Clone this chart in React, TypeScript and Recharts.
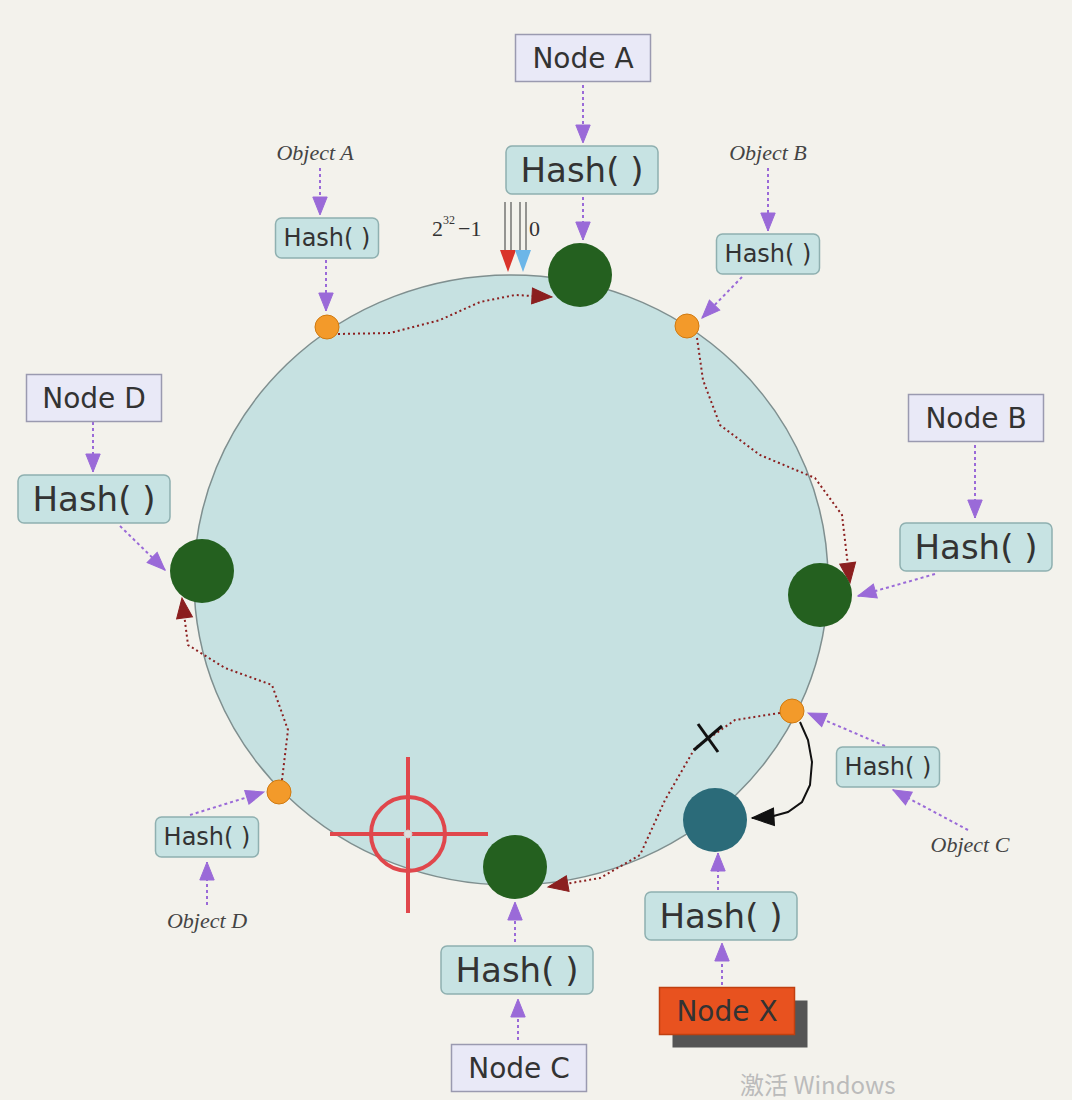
import { ScatterChart, Scatter, XAxis, YAxis } from "recharts";

type P = { x: number; y: number; [k: string]: any };

const ring: P[] = [{ x: 511, y: 580 }];
const nodes: P[] = [
  { x: 580, y: 275, c: "#24601f" },
  { x: 820, y: 595, c: "#24601f" },
  { x: 515, y: 867, c: "#24601f" },
  { x: 202, y: 571, c: "#24601f" },
  { x: 715, y: 820, c: "#2b6b79" },
];
const objects: P[] = [
  { x: 327, y: 327 },
  { x: 687, y: 326 },
  { x: 792, y: 711 },
  { x: 279, y: 792 },
];
const boxes: P[] = [
  { x: 583, y: 58, kind: "node", t: "Node A" },
  { x: 582, y: 170, kind: "big", t: "Hash( )" },
  { x: 327, y: 238, kind: "small", t: "Hash( )" },
  { x: 768, y: 254, kind: "small", t: "Hash( )" },
  { x: 976, y: 418, kind: "node", t: "Node B" },
  { x: 976, y: 547, kind: "big", t: "Hash( )" },
  { x: 888, y: 767, kind: "small", t: "Hash( )" },
  { x: 94, y: 398, kind: "node", t: "Node D" },
  { x: 94, y: 499, kind: "big", t: "Hash( )" },
  { x: 207, y: 837, kind: "small", t: "Hash( )" },
  { x: 517, y: 970, kind: "big", t: "Hash( )" },
  { x: 519, y: 1068, kind: "node", t: "Node C" },
  { x: 721, y: 916, kind: "big", t: "Hash( )" },
  { x: 727, y: 1011, kind: "nodex", t: "Node X" },
];
const labels: P[] = [
  { x: 315, y: 160, t: "Object A" },
  { x: 768, y: 160, t: "Object B" },
  { x: 970, y: 852, t: "Object C" },
  { x: 207, y: 928, t: "Object D" },
];
const purpleArrows: [number, number, number, number][] = [
  [583, 85, 583, 143], [583, 197, 583, 240], [320, 168, 320, 215], [326, 260, 326, 311],
  [768, 168, 768, 231], [742, 277, 702, 318], [975, 445, 975, 518], [935, 574, 858, 596],
  [968, 830, 893, 790], [885, 746, 808, 713], [718, 890, 718, 853], [722, 985, 722, 943],
  [515, 942, 515, 902], [518, 1040, 518, 999], [93, 422, 93, 472], [120, 526, 165, 570],
  [190, 815, 264, 792], [207, 905, 207, 862],
];
const redCurves: P[][] = [
  [{ x: 338, y: 334 }, { x: 390, y: 333 }, { x: 440, y: 320 }, { x: 480, y: 302 }, { x: 515, y: 295 }, { x: 552, y: 297 }],
  [{ x: 697, y: 338 }, { x: 703, y: 380 }, { x: 720, y: 425 }, { x: 760, y: 455 }, { x: 815, y: 478 }, { x: 842, y: 515 }, { x: 850, y: 583 }],
  [{ x: 780, y: 713 }, { x: 735, y: 720 }, { x: 695, y: 748 }, { x: 665, y: 800 }, { x: 640, y: 855 }, { x: 600, y: 878 }, { x: 548, y: 887 }],
  [{ x: 282, y: 780 }, { x: 288, y: 730 }, { x: 272, y: 685 }, { x: 225, y: 668 }, { x: 188, y: 645 }, { x: 182, y: 598 }],
];
const blackCurve: P[] = [
  { x: 800, y: 722 }, { x: 808, y: 740 }, { x: 812, y: 762 }, { x: 810, y: 785 },
  { x: 802, y: 802 }, { x: 788, y: 812 }, { x: 770, y: 817 }, { x: 752, y: 818 },
];
const topMarks: P[] = [{ x: 470, y: 228, t: "2" }];

const boxStyle: Record<string, any> = {
  node: { w: 135, h: 47, fs: 28, fill: "#e9e9f7", stroke: "#9a9ab0", color: "#333", r: 0 },
  big: { w: 152, h: 48, fs: 34, fill: "#c7e3e3", stroke: "#8fb0b0", color: "#333", r: 6 },
  small: { w: 103, h: 40, fs: 24, fill: "#c7e3e3", stroke: "#8fb0b0", color: "#333", r: 6 },
  nodex: { w: 135, h: 47, fs: 28, fill: "#e8521f", stroke: "#c04010", color: "#333", r: 0 },
};

function head(color: string, size = 16) {
  return (p: any) => {
    const { cx, cy, payload, index } = p;
    if (payload.end !== true) return <g />;
    const a = payload.ang;
    return (
      <polygon
        key={index}
        points={`0,0 ${-size},${-size * 0.4} ${-size},${size * 0.4}`}
        fill={color}
        stroke={color}
        transform={`translate(${cx},${cy}) rotate(${a})`}
      />
    );
  };
}

function withHead(pts: P[]): P[] {
  const n = pts.length;
  const a = pts[n - 2], b = pts[n - 1];
  const ang = (Math.atan2(b.y - a.y, b.x - a.x) * 180) / Math.PI;
  return pts.map((q, i) => (i === n - 1 ? { ...q, end: true, ang } : q));
}

export default function App() {
  return (
    <div style={{ position: "absolute", left: 0, top: 0, background: "#f3f2ec" }}>
      <ScatterChart width={1072} height={1100} margin={{ top: 0, right: 0, bottom: 0, left: 0 }}>
        <XAxis type="number" dataKey="x" domain={[0, 1072]} hide />
        <YAxis type="number" dataKey="y" domain={[0, 1100]} reversed hide />
        <Scatter
          data={ring}
          isAnimationActive={false}
          shape={(p: any) => (
            <ellipse cx={p.cx} cy={p.cy} rx={317} ry={305} fill="#c6e1e1" stroke="#7f8f8f" strokeWidth={1.5} />
          )}
        />
        {/* crosshair */}
        <Scatter
          data={[{ x: 408, y: 834 }]}
          isAnimationActive={false}
          shape={(p: any) => (
            <g stroke="#e0474c" fill="none">
              <line x1={p.cx - 78} y1={p.cy} x2={p.cx + 80} y2={p.cy} strokeWidth={4} />
              <line x1={p.cx} y1={p.cy - 77} x2={p.cx} y2={p.cy + 79} strokeWidth={4} />
              <circle cx={p.cx} cy={p.cy} r={37} strokeWidth={4} />
              <circle cx={p.cx} cy={p.cy} r={4} fill="#ddd" stroke="#ccc" />
            </g>
          )}
        />
        {redCurves.map((c, i) => (
          <Scatter
            key={"r" + i}
            data={withHead(c)}
            line={{ stroke: "#8b1f1f", strokeWidth: 2, strokeDasharray: "2 3" }}
            lineType="joint"
            isAnimationActive={false}
            shape={head("#8b1f1f", 20)}
          />
        ))}
        <Scatter
          data={withHead(blackCurve)}
          line={{ stroke: "#111", strokeWidth: 2 }}
          lineType="joint"
          isAnimationActive={false}
          shape={head("#111", 22)}
        />
        <Scatter
          data={[{ x: 708, y: 738 }]}
          isAnimationActive={false}
          shape={(p: any) => (
            <g stroke="#111" strokeWidth={3}>
              <line x1={p.cx - 14} y1={p.cy + 12} x2={p.cx + 14} y2={p.cy - 12} />
              <line x1={p.cx - 10} y1={p.cy - 14} x2={p.cx + 10} y2={p.cy + 14} />
            </g>
          )}
        />
        {purpleArrows.map((a, i) => (
          <Scatter
            key={"p" + i}
            data={withHead([{ x: a[0], y: a[1] }, { x: a[2], y: a[3] }])}
            line={{ stroke: "#9a6ad8", strokeWidth: 2, strokeDasharray: "3 3" }}
            lineType="joint"
            isAnimationActive={false}
            shape={head("#9a6ad8", 18)}
          />
        ))}
        <Scatter
          data={nodes}
          isAnimationActive={false}
          shape={(p: any) => <circle cx={p.cx} cy={p.cy} r={32} fill={p.payload.c} />}
        />
        <Scatter
          data={objects}
          isAnimationActive={false}
          shape={(p: any) => <circle cx={p.cx} cy={p.cy} r={12} fill="#f39a2a" stroke="#d07a10" />}
        />
        <Scatter
          data={boxes}
          isAnimationActive={false}
          shape={(p: any) => {
            const s = boxStyle[p.payload.kind];
            return (
              <g>
                {p.payload.kind === "nodex" && (
                  <rect x={p.cx - s.w / 2 + 13} y={p.cy - s.h / 2 + 13} width={s.w} height={s.h} fill="#555" />
                )}
                <rect x={p.cx - s.w / 2} y={p.cy - s.h / 2} width={s.w} height={s.h} rx={s.r} fill={s.fill} stroke={s.stroke} strokeWidth={1.5} />
                <text x={p.cx} y={p.cy} dy="0.35em" textAnchor="middle" fontSize={s.fs} fill={s.color} fontFamily="DejaVu Sans, sans-serif">
                  {p.payload.t}
                </text>
              </g>
            );
          }}
        />
        <Scatter
          data={labels}
          isAnimationActive={false}
          shape={(p: any) => (
            <text x={p.cx} y={p.cy} textAnchor="middle" fontSize={22} fontStyle="italic" fill="#444" fontFamily="Liberation Serif, serif">
              {p.payload.t}
            </text>
          )}
        />
        <Scatter
          data={topMarks}
          isAnimationActive={false}
          shape={(p: any) => (
            <g fontFamily="Liberation Serif, serif" fill="#333">
              <text x={p.cx - 38} y={p.cy + 8} fontSize={22}>2</text>
              <text x={p.cx - 27} y={p.cy - 4} fontSize={12}>32</text>
              <text x={p.cx - 12} y={p.cy + 8} fontSize={22}>−1</text>
              <text x={p.cx + 59} y={p.cy + 8} fontSize={22}>0</text>
              <g stroke="#555" strokeWidth={1.2}>
                <line x1={p.cx + 35} y1={p.cy - 26} x2={p.cx + 35} y2={p.cy + 28} />
                <line x1={p.cx + 41} y1={p.cy - 26} x2={p.cx + 41} y2={p.cy + 28} />
                <line x1={p.cx + 50} y1={p.cy - 26} x2={p.cx + 50} y2={p.cy + 28} />
                <line x1={p.cx + 56} y1={p.cy - 26} x2={p.cx + 56} y2={p.cy + 28} />
              </g>
              <polygon points={`${p.cx + 30},${p.cy + 22} ${p.cx + 46},${p.cy + 22} ${p.cx + 38},${p.cy + 44}`} fill="#d9342b" />
              <polygon points={`${p.cx + 45},${p.cy + 22} ${p.cx + 61},${p.cy + 22} ${p.cx + 53},${p.cy + 44}`} fill="#6cb6e8" />
            </g>
          )}
        />
        <Scatter
          data={[{ x: 740, y: 1094 }]}
          isAnimationActive={false}
          shape={(p: any) => (
            <text x={p.cx} y={p.cy} fontSize={24} fill="#bbb" fontFamily="Noto Sans CJK SC, sans-serif">激活 Windows</text>
          )}
        />
      </ScatterChart>
    </div>
  );
}
